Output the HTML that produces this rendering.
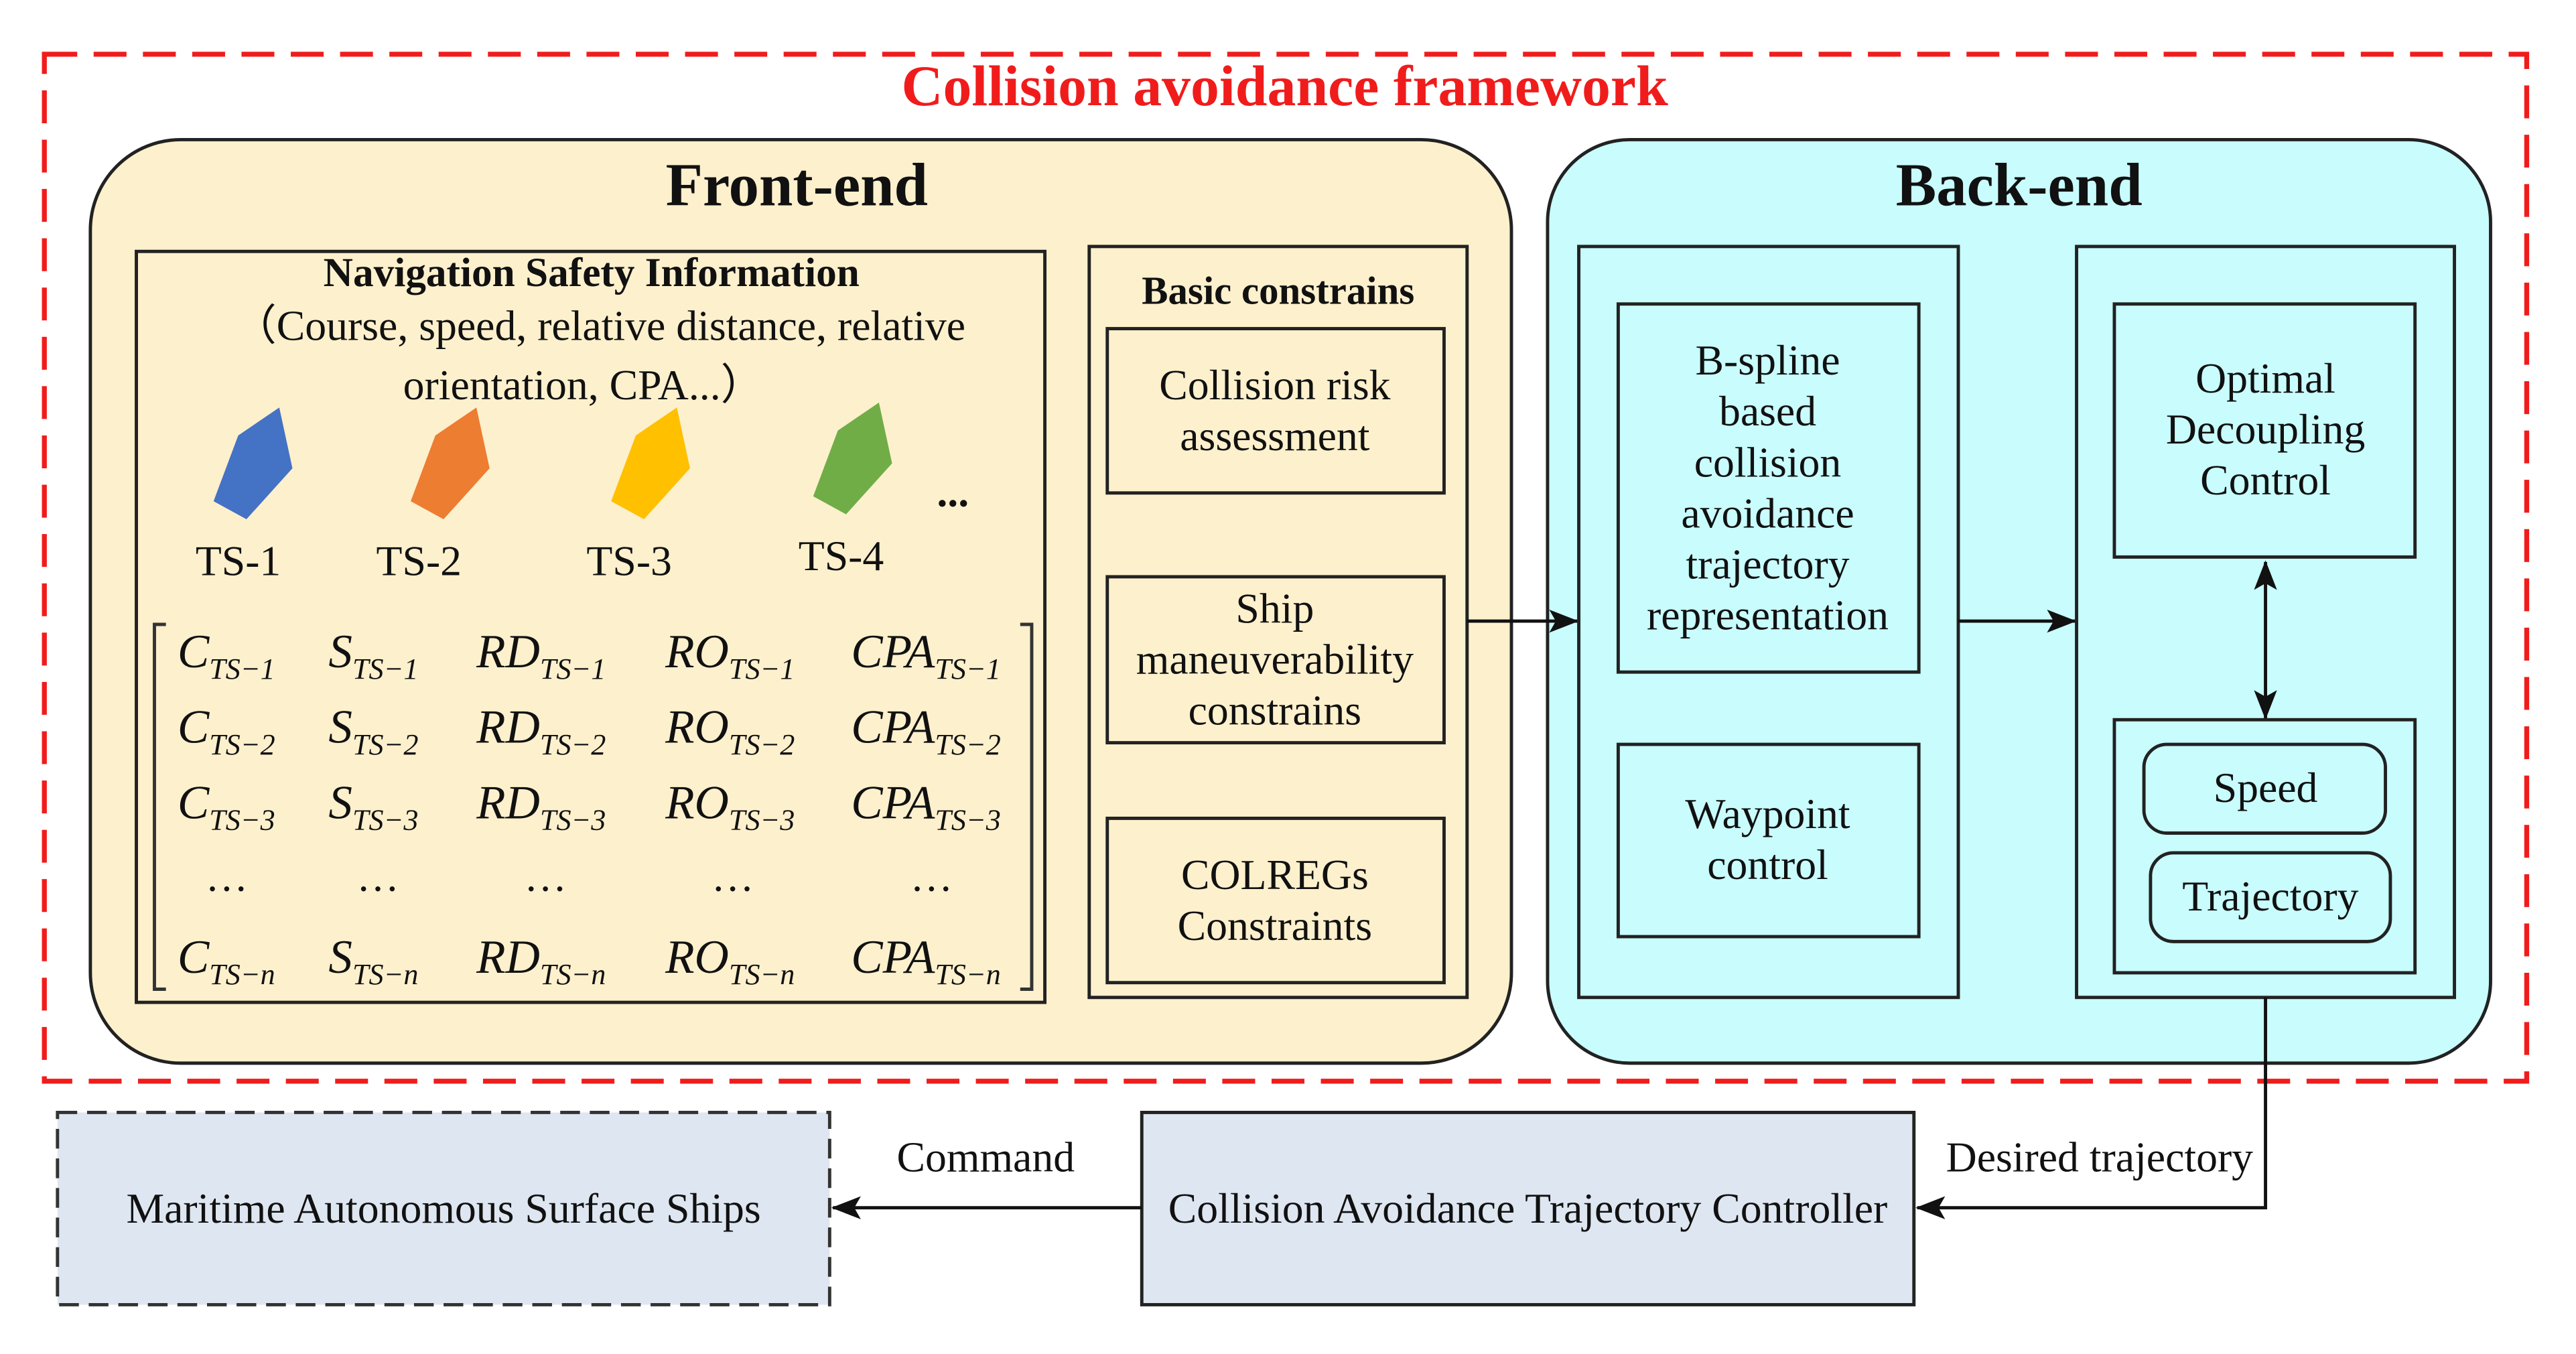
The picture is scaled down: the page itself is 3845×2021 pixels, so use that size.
<!DOCTYPE html>
<html><head><meta charset="utf-8"><style>
html,body{margin:0;padding:0;background:#fff;}
svg{display:block;}
text{font-family:"Liberation Serif",serif;fill:#111;}
.t{font-size:26px;text-anchor:middle;}
.b{font-weight:bold;}
.m{font-size:29px;font-style:italic;}
.s{font-size:18px;font-style:italic;}
</style></head><body>
<svg width="3845" height="2021" viewBox="0 0 1568 824" preserveAspectRatio="none" xmlns="http://www.w3.org/2000/svg">
<defs>
<marker id="a2" markerWidth="18" markerHeight="14" refX="17" refY="7" orient="auto-start-reverse" markerUnits="userSpaceOnUse"><path d="M0,0 L18,7 L0,14 L4,7 z" fill="#111"/></marker>
</defs>
<rect x="27" y="33" width="1511" height="625" fill="none" stroke="#f01c1c" stroke-width="3" stroke-dasharray="20,10"/>
<text x="782" y="64" class="b" style="font-size:35px;text-anchor:middle;fill:#f01c1c">Collision avoidance framework</text>

<rect x="55" y="85" width="865" height="562" rx="55" fill="#fdf0cd" stroke="#222" stroke-width="2"/>
<text x="485" y="125" class="b" style="font-size:37px;text-anchor:middle">Front-end</text>
<rect x="83" y="153" width="553" height="457" fill="none" stroke="#222" stroke-width="2"/>
<text x="360" y="174" class="t b" style="font-size:25px">Navigation Safety Information</text>
<text x="365" y="207" class="t">（Course, speed, relative distance, relative</text>
<text x="355" y="243" class="t">orientation, CPA...）</text>
<polygon points="130,305 145,265 170,248 178,285 150,316" fill="#4472c4"/>
<polygon points="250,305 265,265 290,248 298,285 270,316" fill="#ed7d31"/>
<polygon points="372,305 387,265 412,248 420,285 392,316" fill="#ffc000"/>
<polygon points="495,302 510,262 535,245 543,282 515,313" fill="#70ad47"/>
<text x="580" y="308" class="t b">...</text>
<text x="145" y="350" class="t">TS-1</text>
<text x="255" y="350" class="t">TS-2</text>
<text x="383" y="350" class="t">TS-3</text>
<text x="512" y="347" class="t">TS-4</text>
<path d="M101,380 H94 V602 H101 M621,380 H628 V602 H621" fill="none" stroke="#333" stroke-width="2"/>
<g>
<text x="108" y="406" class="m">C<tspan class="s" dy="7">TS−1</tspan></text>
<text x="200" y="406" class="m">S<tspan class="s" dy="7">TS−1</tspan></text>
<text x="290" y="406" class="m">RD<tspan class="s" dy="7">TS−1</tspan></text>
<text x="405" y="406" class="m">RO<tspan class="s" dy="7">TS−1</tspan></text>
<text x="518" y="406" class="m">CPA<tspan class="s" dy="7">TS−1</tspan></text>
<text x="108" y="452" class="m">C<tspan class="s" dy="7">TS−2</tspan></text>
<text x="200" y="452" class="m">S<tspan class="s" dy="7">TS−2</tspan></text>
<text x="290" y="452" class="m">RD<tspan class="s" dy="7">TS−2</tspan></text>
<text x="405" y="452" class="m">RO<tspan class="s" dy="7">TS−2</tspan></text>
<text x="518" y="452" class="m">CPA<tspan class="s" dy="7">TS−2</tspan></text>
<text x="108" y="498" class="m">C<tspan class="s" dy="7">TS−3</tspan></text>
<text x="200" y="498" class="m">S<tspan class="s" dy="7">TS−3</tspan></text>
<text x="290" y="498" class="m">RD<tspan class="s" dy="7">TS−3</tspan></text>
<text x="405" y="498" class="m">RO<tspan class="s" dy="7">TS−3</tspan></text>
<text x="518" y="498" class="m">CPA<tspan class="s" dy="7">TS−3</tspan></text>
<text x="138" y="542" class="t">…</text><text x="230" y="542" class="t">…</text><text x="332" y="542" class="t">…</text><text x="446" y="542" class="t">…</text><text x="567" y="542" class="t">…</text>
<text x="108" y="592" class="m">C<tspan class="s" dy="7">TS−n</tspan></text>
<text x="200" y="592" class="m">S<tspan class="s" dy="7">TS−n</tspan></text>
<text x="290" y="592" class="m">RD<tspan class="s" dy="7">TS−n</tspan></text>
<text x="405" y="592" class="m">RO<tspan class="s" dy="7">TS−n</tspan></text>
<text x="518" y="592" class="m">CPA<tspan class="s" dy="7">TS−n</tspan></text>
</g>
<rect x="663" y="150" width="230" height="457" fill="none" stroke="#222" stroke-width="2"/>
<text x="778" y="185" class="t b" style="font-size:24px">Basic constrains</text>
<rect x="674" y="200" width="205" height="100" fill="none" stroke="#222" stroke-width="2"/>
<text x="776" y="243" class="t">Collision risk</text><text x="776" y="274" class="t">assessment</text>
<rect x="674" y="351" width="205" height="101" fill="none" stroke="#222" stroke-width="2"/>
<text x="776" y="379" class="t">Ship</text><text x="776" y="410" class="t">maneuverability</text><text x="776" y="441" class="t">constrains</text>
<rect x="674" y="498" width="205" height="100" fill="none" stroke="#222" stroke-width="2"/>
<text x="776" y="541" class="t">COLREGs</text><text x="776" y="572" class="t">Constraints</text>

<rect x="942" y="85" width="574" height="562" rx="50" fill="#c9fcfd" stroke="#222" stroke-width="2"/>
<text x="1229" y="125" class="b" style="font-size:37px;text-anchor:middle">Back-end</text>
<line x1="893" y1="378" x2="960" y2="378" stroke="#111" stroke-width="2" marker-end="url(#a2)"/>
<rect x="961" y="150" width="231" height="457" fill="none" stroke="#222" stroke-width="2"/>
<rect x="985" y="185" width="183" height="224" fill="none" stroke="#222" stroke-width="2"/>
<text x="1076" y="228" class="t">B-spline</text><text x="1076" y="259" class="t">based</text><text x="1076" y="290" class="t">collision</text><text x="1076" y="321" class="t">avoidance</text><text x="1076" y="352" class="t">trajectory</text><text x="1076" y="383" class="t">representation</text>
<rect x="985" y="453" width="183" height="117" fill="none" stroke="#222" stroke-width="2"/>
<text x="1076" y="504" class="t">Waypoint</text><text x="1076" y="535" class="t">control</text>
<line x1="1192" y1="378" x2="1263" y2="378" stroke="#111" stroke-width="2" marker-end="url(#a2)"/>
<rect x="1264" y="150" width="230" height="457" fill="none" stroke="#222" stroke-width="2"/>
<rect x="1287" y="185" width="183" height="154" fill="none" stroke="#222" stroke-width="2"/>
<text x="1379" y="239" class="t">Optimal</text><text x="1379" y="270" class="t">Decoupling</text><text x="1379" y="301" class="t">Control</text>
<line x1="1379" y1="342" x2="1379" y2="437" stroke="#111" stroke-width="2" marker-start="url(#a2)" marker-end="url(#a2)"/>
<rect x="1287" y="438" width="183" height="154" fill="none" stroke="#222" stroke-width="2"/>
<rect x="1305" y="453" width="147" height="54" rx="14" fill="none" stroke="#222" stroke-width="2"/>
<text x="1379" y="488" class="t">Speed</text>
<rect x="1309" y="519" width="146" height="54" rx="14" fill="none" stroke="#222" stroke-width="2"/>
<text x="1382" y="554" class="t">Trajectory</text>

<polyline points="1379,607 1379,735 1167,735" fill="none" stroke="#111" stroke-width="2" marker-end="url(#a2)"/>
<text x="1278" y="713" class="t">Desired trajectory</text>
<rect x="695" y="677" width="470" height="117" fill="#dee6f1" stroke="#222" stroke-width="2"/>
<text x="930" y="744" class="t">Collision Avoidance Trajectory Controller</text>
<line x1="695" y1="735" x2="507" y2="735" stroke="#111" stroke-width="2" marker-end="url(#a2)"/>
<text x="600" y="713" class="t">Command</text>
<rect x="35" y="677" width="470" height="117" fill="#dee6f1" stroke="#333" stroke-width="2" stroke-dasharray="12,6"/>
<text x="270" y="744" class="t">Maritime Autonomous Surface Ships</text>
</svg>
</body></html>
